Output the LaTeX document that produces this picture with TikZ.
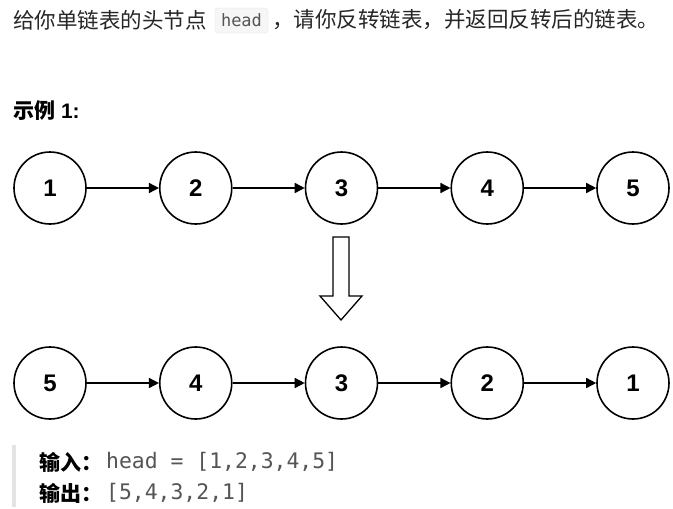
\documentclass[tikz,border=0pt]{standalone}
\usepackage{fontspec}
\setmainfont{Liberation Sans}
\setmonofont{DejaVu Sans Mono}
\newfontfamily\cjk{Noto Sans CJK SC}
\usetikzlibrary{arrows.meta,positioning}
\definecolor{txtdark}{HTML}{262626}
\definecolor{codegray}{HTML}{555555}
\definecolor{codebg}{HTML}{F6F6F6}
\definecolor{codeline}{HTML}{E6E6E6}
\definecolor{quotebar}{HTML}{E4E4E4}
\tikzset{
  listnode/.style={circle,draw,line width=1.6pt,minimum size=72pt,inner sep=0pt,
    font=\fontsize{24}{24}\selectfont\bfseries},
  nextptr/.style={line width=1.6pt,-{Triangle[length=10pt,width=10pt]}},
  plaintext/.style={anchor=west,inner sep=0pt,text=txtdark},
}
\begin{document}
\begin{tikzpicture}[x=1pt,y=-1pt]
\fill[white](0,0)rectangle(673,509);
\useasboundingbox(0,0)rectangle(673,509);
%question
\node[plaintext,font=\fontsize{21.5}{21.5}\selectfont\cjk] (qa) at (13,20) {给你单链表的头节点};
\node[draw=codeline,fill=codebg,rounded corners=3pt,minimum width=53pt,minimum height=25pt,
  inner sep=0pt,text=codegray,font=\fontsize{17}{17}\selectfont\ttfamily] (code) at (241.5,20.5) {head};
\node[plaintext,font=\fontsize{21.5}{21.5}\selectfont\cjk] (qb) at (272,20) {，请你反转链表，并返回反转后的链表。};
%example title
\node[plaintext,text=black,font=\fontsize{21}{21}\selectfont\bfseries] (title) at (13,111) {{\cjk 示例} 1:};
%list before
\foreach \v [count=\i] in {1,...,5}{
\node[listnode] (a\i) at ({50+145.75*(\i-1)},188) {\v};
}
%list after
\foreach \v [count=\i] in {5,4,3,2,1}{
\node[listnode] (b\i) at ({50+145.75*(\i-1)},383) {\v};
}
\foreach \i/\j in {1/2,2/3,3/4,4/5}{
\draw[nextptr](a\i)--(a\j);
\draw[nextptr](b\i)--(b\j);
}
%hollow arrow
\draw[line width=1.3pt,line join=miter](333,237)--(349,237)--(349,296)--(362,296)
--(341,320)--(320,296)--(333,296)--cycle;
%input / output
\fill[quotebar](12,445)rectangle(16,507);
\node[plaintext,text=black,font=\fontsize{21}{21}\selectfont\cjk\bfseries] (inlbl) at (39,462) {输入：};
\node[plaintext,text=codegray,font=\fontsize{21.4}{21.4}\selectfont\ttfamily] (inval) at (106,462) {head = [1,2,3,4,5]};
\node[plaintext,text=black,font=\fontsize{21}{21}\selectfont\cjk\bfseries] (outlbl) at (39,493) {输出：};
\node[plaintext,text=codegray,font=\fontsize{21.4}{21.4}\selectfont\ttfamily] (outval) at (106,493) {[5,4,3,2,1]};
\end{tikzpicture}
\end{document}
